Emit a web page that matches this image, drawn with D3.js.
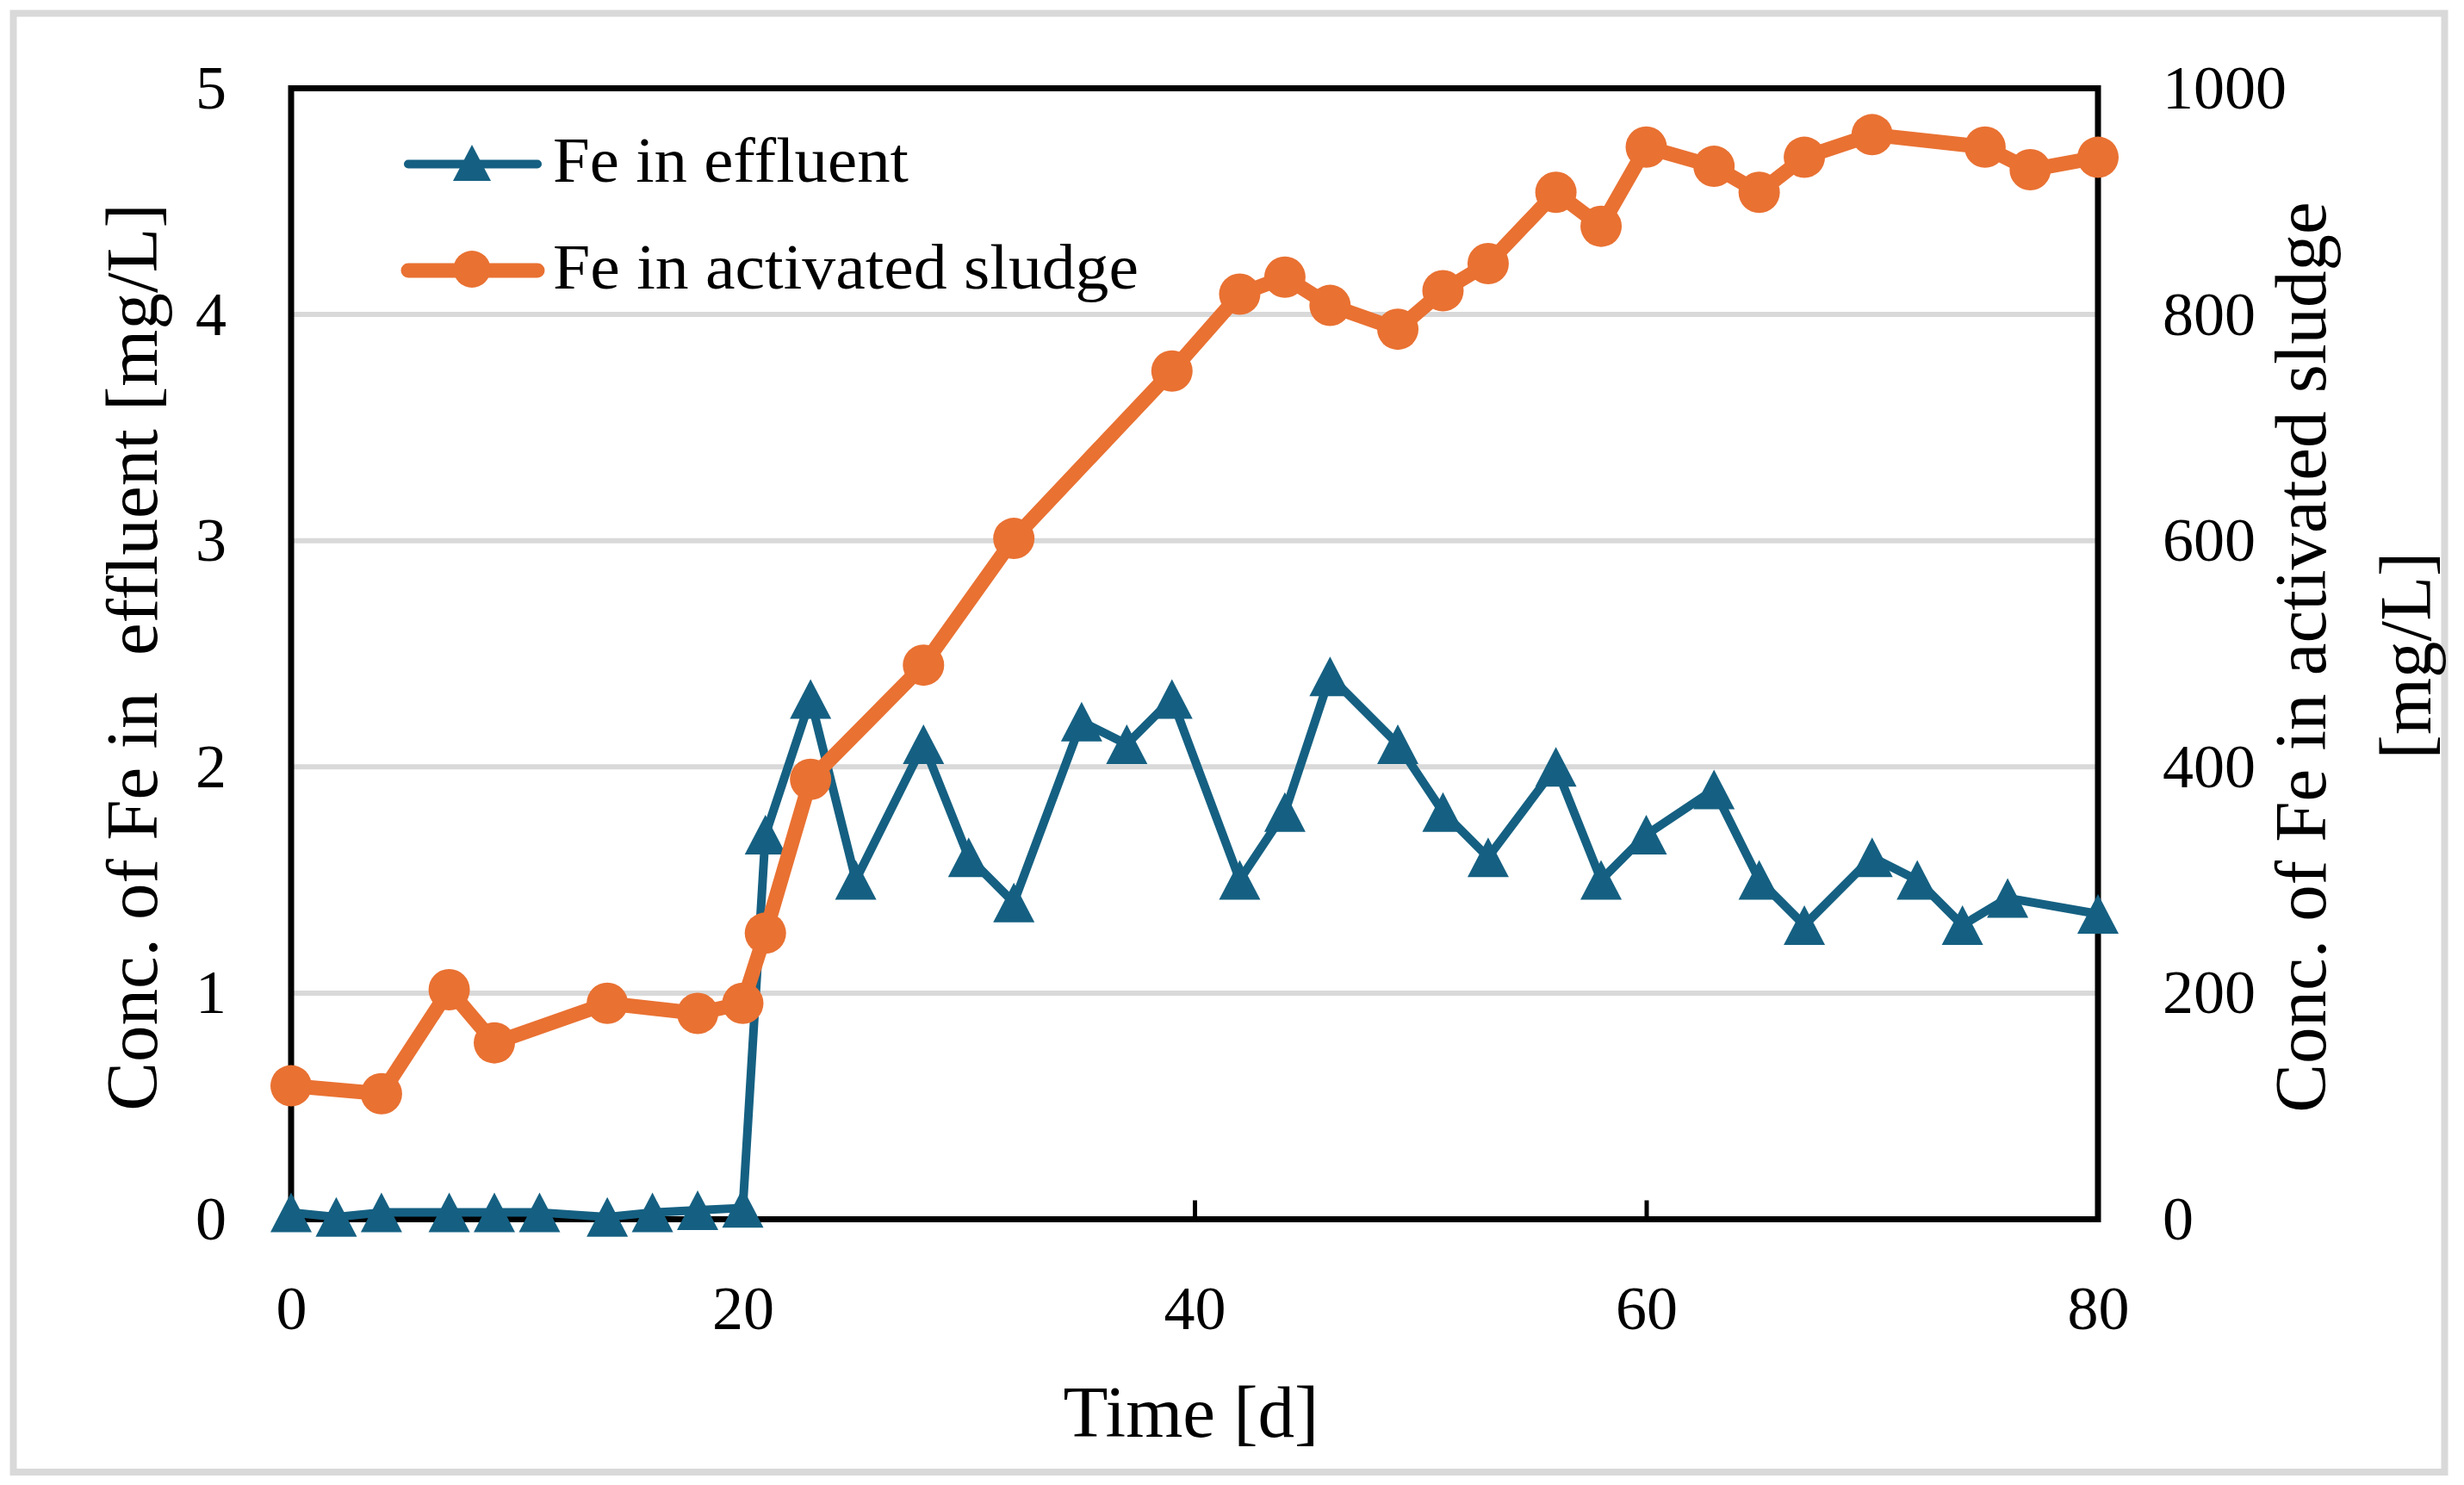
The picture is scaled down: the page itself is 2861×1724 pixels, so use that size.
<!DOCTYPE html>
<html><head><meta charset="utf-8">
<script src="https://cdn.jsdelivr.net/npm/d3@7"></script>
<style>html,body{margin:0;padding:0;background:#fff;} svg{display:block;}</style>
</head><body>
<svg id="chart" width="2861" height="1724"></svg>
<script>
// ---- data ----
const effluentDays   = [0,2,4,7,9,11,14,16,18,20,21,23,25,28,30,32,35,37,39,42,44,46,49,51,53,56,58,60,63,65,67,70,72,74,76,80];
const effluentValues = [0.03,0.01,0.03,0.03,0.03,0.03,0.01,0.03,0.04,0.05,1.7,2.3,1.5,2.1,1.6,1.4,2.2,2.1,2.3,1.5,1.8,2.4,2.1,1.8,1.6,2.0,1.5,1.7,1.9,1.5,1.3,1.6,1.5,1.3,1.42,1.35];
const sludgeDays     = [0,4,7,9,14,18,20,21,23,28,32,39,42,44,46,49,51,53,56,58,60,63,65,67,70,75,77,80];
const sludgeValues   = [118,111,203,156,191,182,191,253,389,490,602,750,818,833,808,787,821,845,908,878,948,931,908,939,959,948,928,939];
const xTicks      = [0,20,40,60,80];
const yLeftTicks  = [0,1,2,3,4,5];
const yRightTicks = [0,200,400,600,800,1000];
const seriesNames = ["Fe in effluent","Fe in activated sludge"];
const xTitle = "Time [d]";
const yLeftTitle = "Conc. of Fe in  effluent [mg/L]";
const yRightTitle = ["Conc. of Fe in activated sludge","[mg/L]"];

// ---- layout ----
const W=2861,H=1724;
const P={left:338,right:2436,top:102.5,bottom:1415.5};
const BLUE="#156082", ORANGE="#E97132", GRID="#d9d9d9";
const FONT="'Liberation Serif','Times New Roman',serif";

const x=d3.scaleLinear().domain([0,80]).range([P.left,P.right]);
const yL=d3.scaleLinear().domain([0,5]).range([P.bottom,P.top]);
const yR=d3.scaleLinear().domain([0,1000]).range([P.bottom,P.top]);

const svg=d3.select("#chart");
svg.append("rect").attr("width",W).attr("height",H).attr("fill","#fff");
svg.append("rect").attr("x",15.5).attr("y",15.5).attr("width",2823).attr("height",1693.5)
  .attr("fill","none").attr("stroke",GRID).attr("stroke-width",8);

// gridlines
svg.append("g").selectAll("line").data(yLeftTicks.filter(v=>v>0&&v<5)).join("line")
  .attr("x1",P.left).attr("x2",P.right).attr("y1",d=>yL(d)).attr("y2",d=>yL(d))
  .attr("stroke",GRID).attr("stroke-width",6);

// frame
svg.append("rect").attr("x",P.left).attr("y",P.top).attr("width",P.right-P.left).attr("height",P.bottom-P.top)
  .attr("fill","none").attr("stroke","#000").attr("stroke-width",7);

// axes
const gx=svg.append("g").attr("transform",`translate(0,${P.bottom})`)
  .call(d3.axisBottom(x).tickValues(xTicks).tickSizeInner(-22).tickSizeOuter(0).tickPadding(76.5).tickFormat(d3.format("d")));
const gl=svg.append("g").attr("transform",`translate(${P.left},0)`)
  .call(d3.axisLeft(yL).tickValues(yLeftTicks).tickSize(0).tickPadding(75).tickFormat(d3.format("d")));
const gr=svg.append("g").attr("transform",`translate(${P.right},0)`)
  .call(d3.axisRight(yR).tickValues(yRightTicks).tickSize(0).tickPadding(75).tickFormat(d3.format("d")));
[gx,gl,gr].forEach(g=>{
  g.select(".domain").remove();
  g.selectAll(".tick line").attr("stroke","#000").attr("stroke-width",5);
  g.selectAll(".tick text").attr("font-family",FONT).attr("font-size",72).attr("fill","#000");
});

// series: effluent (blue, triangles)
const lineE=d3.line().x((d,i)=>x(effluentDays[i])).y(d=>yL(d));
svg.append("path").datum(effluentValues).attr("d",lineE).attr("fill","none")
  .attr("stroke",BLUE).attr("stroke-width",10).attr("stroke-linejoin","round").attr("stroke-linecap","round");
const tri=(cx,cy,w,h)=>`M${cx},${cy-h/2}L${cx+w/2},${cy+h/2}L${cx-w/2},${cy+h/2}Z`;
svg.append("g").selectAll("path").data(effluentValues).join("path")
  .attr("d",(d,i)=>tri(x(effluentDays[i]),yL(d),48,46)).attr("fill",BLUE);

// series: sludge (orange, circles)
const lineS=d3.line().x((d,i)=>x(sludgeDays[i])).y(d=>yR(d));
svg.append("path").datum(sludgeValues).attr("d",lineS).attr("fill","none")
  .attr("stroke",ORANGE).attr("stroke-width",17).attr("stroke-linejoin","round").attr("stroke-linecap","round");
svg.append("g").selectAll("circle").data(sludgeValues).join("circle")
  .attr("cx",(d,i)=>x(sludgeDays[i])).attr("cy",d=>yR(d)).attr("r",24).attr("fill",ORANGE);

// legend
const lg=svg.append("g");
lg.append("line").attr("x1",474).attr("x2",624).attr("y1",190.5).attr("y2",190.5)
  .attr("stroke",BLUE).attr("stroke-width",10).attr("stroke-linecap","round");
lg.append("path").attr("d",tri(548,189,44,42)).attr("fill",BLUE);
lg.append("line").attr("x1",474).attr("x2",624).attr("y1",314).attr("y2",314)
  .attr("stroke",ORANGE).attr("stroke-width",17).attr("stroke-linecap","round");
lg.append("circle").attr("cx",548).attr("cy",312.5).attr("r",21.5).attr("fill",ORANGE);
lg.append("text").attr("x",642).attr("y",211).text(seriesNames[0])
  .attr("font-family",FONT).attr("font-size",74).attr("textLength",413).attr("lengthAdjust","spacingAndGlyphs");
lg.append("text").attr("x",642).attr("y",335).text(seriesNames[1])
  .attr("font-family",FONT).attr("font-size",74).attr("textLength",680).attr("lengthAdjust","spacingAndGlyphs");

// titles
svg.append("text").attr("x",1383).attr("y",1668).attr("text-anchor","middle")
  .attr("font-family",FONT).attr("font-size",85).text(xTitle);
svg.append("text").attr("transform","translate(182,763) rotate(-90)").attr("text-anchor","middle")
  .attr("font-family",FONT).attr("font-size",85).style("white-space","pre").text(yLeftTitle);
svg.append("text").attr("transform","translate(2700,763) rotate(-90)").attr("text-anchor","middle")
  .attr("font-family",FONT).attr("font-size",85).text(yRightTitle[0]);
svg.append("text").attr("transform","translate(2822,761) rotate(-90)").attr("text-anchor","middle")
  .attr("font-family",FONT).attr("font-size",85).text(yRightTitle[1]);
</script>
</body></html>
